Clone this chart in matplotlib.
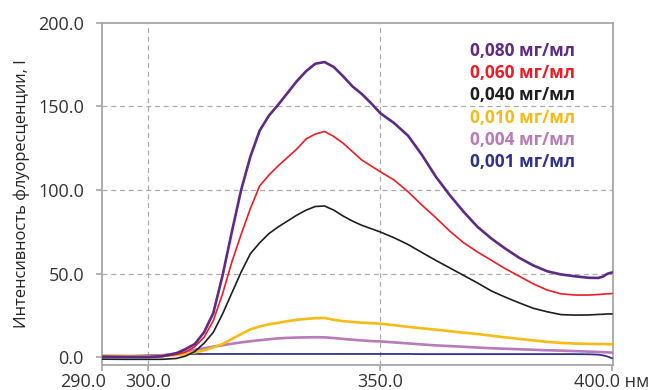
import matplotlib
matplotlib.use("Agg")
import matplotlib.pyplot as plt
import matplotlib.transforms as mtransforms

plt.rcParams["font.family"] = ["Open Sans", "DejaVu Sans"]

wavelength = [290, 295, 300, 303, 306, 308, 310, 312, 314, 316, 318, 320, 322, 324,
              326, 328, 330, 332, 334, 336, 338, 340, 342, 344, 346, 348, 350, 353,
              356, 359, 362, 365, 368, 371, 374, 377, 380, 383, 386, 389, 392, 395,
              397, 398, 399, 400]

c_080 = [0.5, 0.3, 0.3, 0.8, 2.5, 5.0, 8.0, 15.0, 26.5, 49.0, 75.0, 100.0, 120.0, 135.5,
         144.5, 151.0, 158.0, 165.0, 171.0, 175.5, 176.5, 173.5, 168.0, 162.0, 157.5, 152.0,
         146.0, 140.0, 132.5, 121.0, 108.0, 97.0, 87.0, 78.0, 71.0, 65.0, 59.5, 55.0, 51.5,
         49.6, 48.5, 47.6, 47.5, 48.3, 50.0, 50.8]
c_060 = [0.3, 0.2, 0.2, 0.5, 1.8, 3.2, 6.5, 12.0, 22.0, 38.0, 57.0, 73.5, 89.0, 102.5,
         109.0, 114.5, 119.5, 124.5, 130.5, 133.5, 135.0, 132.0, 128.0, 123.0, 118.0, 114.5,
         111.0, 106.0, 99.0, 91.0, 83.5, 75.5, 68.5, 63.0, 58.0, 53.0, 48.5, 44.0, 40.3,
         38.0, 37.3, 37.3, 37.6, 37.8, 38.0, 38.2]
c_040 = [-1.0, -1.1, -1.1, -1.1, -0.6, 0.8, 3.5, 8.5, 15.0, 26.0, 38.5, 51.0, 62.0, 68.5,
         74.0, 78.0, 81.5, 85.0, 88.0, 90.2, 90.5, 88.0, 84.5, 81.5, 79.0, 77.0,
         75.0, 71.5, 67.5, 62.7, 58.0, 53.5, 49.0, 44.5, 39.7, 36.0, 32.6, 29.4, 27.3,
         25.6, 25.3, 25.4, 25.7, 25.8, 26.0, 26.0]
c_010 = [0.9, 0.7, 0.6, 0.9, 1.5, 2.0, 3.0, 4.2, 6.0, 8.0, 11.0, 14.0, 16.8, 18.5,
         19.8, 20.7, 21.7, 22.5, 23.0, 23.5, 23.6, 22.5, 21.7, 21.2, 20.8, 20.5,
         20.2, 19.3, 18.3, 17.4, 16.6, 15.7, 14.8, 14.0, 13.0, 12.0, 11.1, 10.2, 9.3,
         8.7, 8.3, 8.1, 8.0, 8.0, 7.9, 7.9]
c_004 = [1.0, 0.9, 0.9, 1.3, 2.3, 3.5, 4.6, 5.5, 6.5, 7.3, 8.2, 9.0, 9.7, 10.3,
         10.9, 11.4, 11.7, 11.9, 12.0, 12.1, 12.0, 11.6, 11.1, 10.6, 10.2, 9.8,
         9.6, 9.0, 8.4, 7.8, 7.2, 6.8, 6.4, 5.9, 5.5, 5.2, 4.9, 4.6, 4.3,
         4.1, 3.8, 3.5, 3.3, 3.2, 3.0, 2.9]
c_001 = [0.5, 0.8, 1.2, 1.5, 1.8, 2.0, 2.1, 2.1, 2.1, 2.1, 2.1, 2.1, 2.1, 2.1,
         2.1, 2.1, 2.1, 2.1, 2.1, 2.1, 2.1, 2.1, 2.1, 2.1, 2.1, 2.1,
         2.1, 2.1, 2.1, 2.0, 2.0, 2.0, 2.0, 2.0, 2.0, 2.0, 2.0, 2.0, 2.0,
         2.0, 2.0, 1.9, 1.7, 1.3, 0.6, -0.5]

labels = ["0,080 мг/мл", "0,060 мг/мл", "0,040 мг/мл",
          "0,010 мг/мл", "0,004 мг/мл", "0,001 мг/мл"]
colors = ["#5E2A84", "#EE1C25", "#1E1E1E", "#F6BB17", "#B87AB8", "#2E3192"]
widths = [1.9, 1.2, 1.2, 1.9, 1.9, 1.3]

x_ticks = [290, 300, 350, 400]
x_ticklabels = ["290.0", "300.0", "350.0", "400.0 нм"]
y_ticks = [0, 50, 100, 150, 200]
y_ticklabels = ["0.0", "50.0", "100.0", "150.0", "200.0"]


def draw_spectra():
    fig = plt.figure(figsize=(6.56, 3.9), dpi=100)
    ax = fig.add_axes([0.1555, 0.0641, 0.7782, 0.8777])

    series = [c_080, c_060, c_040, c_010, c_004, c_001]
    # draw weakest first so the strong curves sit on top
    for vals, col, lw in reversed(list(zip(series, colors, widths))):
        ax.plot(wavelength, vals, color=col, lw=lw, solid_capstyle="round", zorder=3)

    ax.set_xlim(290, 400.1)
    ax.set_ylim(-4.5, 200)
    ax.set_xticks(x_ticks)
    ax.set_xticklabels(x_ticklabels)
    ax.set_yticks(y_ticks)
    ax.set_yticklabels(y_ticklabels)

    for s in ax.spines.values():
        s.set_color("#A6A6A6")
        s.set_linewidth(1.3)

    ax.tick_params(axis="both", colors="#A6A6A6", labelcolor="#333333",
                   labelsize=13, length=4, width=1.2, direction="out")
    ax.tick_params(axis="y", pad=9)
    ax.tick_params(axis="x", pad=2)

    # gridlines only at the inner ticks
    for xv in [300, 350]:
        ax.axvline(xv, color="#ABABAB", lw=0.9, ls=(0, (4, 3)), zorder=1)
    for yv in [50, 100, 150]:
        ax.axhline(yv, color="#ABABAB", lw=0.9, ls=(0, (4, 3)), zorder=1)

    # first label sits left of its tick in the source chart
    xl = ax.get_xticklabels()
    xl[0].set_transform(xl[0].get_transform() +
                        mtransforms.ScaledTranslation(-0.19, 0, fig.dpi_scale_trans))

    ax.set_ylabel("Интенсивность флуоресценции, I", fontsize=11.9, color="#222222",
                  labelpad=6)

    for i, (lab, col) in enumerate(zip(labels, colors)):
        fig.text(575 / 656, 1 - (50.7 + 22.3 * i) / 390, lab, color=col,
                 fontsize=12.5, fontweight="bold", ha="right", va="center")

    fig.savefig("out.png", dpi=100)


if __name__ == "__main__":
    draw_spectra()
